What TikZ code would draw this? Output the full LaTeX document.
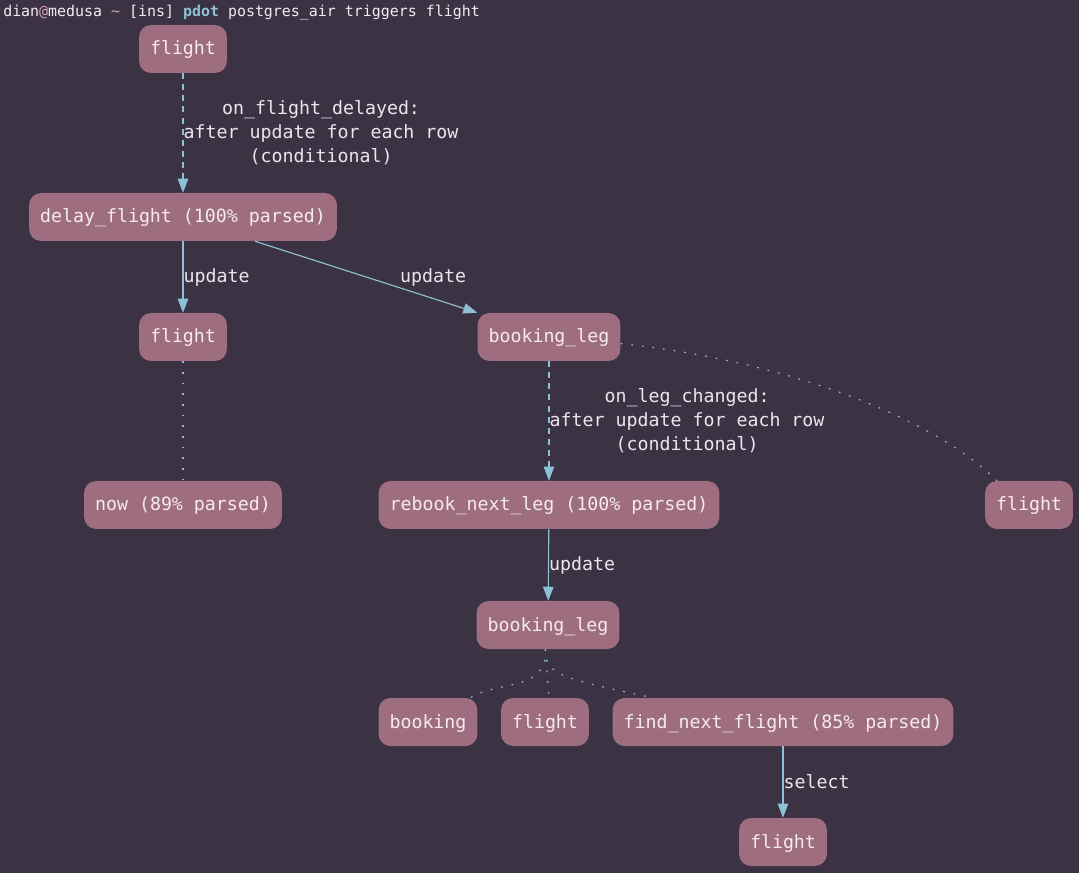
\documentclass[tikz,border=0pt]{standalone}
\usepackage{fontspec}
\setmainfont{DejaVu Sans Mono}
\setmonofont{DejaVu Sans Mono}
\usetikzlibrary{arrows.meta}
\definecolor{bg}{HTML}{3B3344}
\definecolor{nodefill}{HTML}{9E6D7F}
\definecolor{nodetext}{HTML}{F6EAF1}
\definecolor{edgecol}{HTML}{8EC1D6}
\definecolor{labeltext}{HTML}{EDE4EC}
\definecolor{pinkish}{HTML}{D3A0B3}
\tikzset{
  tbl/.style={fill=nodefill, rounded corners=9pt, minimum height=36pt, inner xsep=8.2pt, inner ysep=0pt,
    text height=12pt, text depth=3pt,
    text=nodetext, font=\fontsize{13.7}{16}\selectfont},
  conn/.style={draw=edgecol, line width=0.85pt, -{Triangle[length=10.5pt,width=7.8pt]}},
  trig/.style={conn, dash pattern=on 4.5pt off 3.8pt},
  dep/.style={draw=edgecol, line width=0.85pt, dash pattern=on 1.3pt off 6.7pt},
  lbl/.style={text=labeltext, font=\fontsize{13.7}{18}\selectfont, align=center, inner sep=0pt, anchor=west}
}
\begin{document}
\begin{tikzpicture}[x=0.75pt,y=-0.75pt]
\fill[bg] (0,0) rectangle (1079,873);
\useasboundingbox (0,0) rectangle (1079,873);
\node[anchor=west, inner sep=0pt, font=\fontsize{11.2}{13}\selectfont, text=nodetext] (hdr) at (3,12.5)
  {dian\textcolor{pinkish}{@}medusa \textcolor{pinkish}{\textasciitilde} [ins] \textcolor{edgecol}{\textbf{pdot}} postgres\_air triggers flight};

\node[tbl] (f1) at (183,49) {flight};
\node[tbl] (delay) at (183,217) {delay\_flight (100\% parsed)};
\node[tbl] (f2) at (183,337) {flight};
\node[tbl] (bl1) at (549,337) {booking\_leg};
\node[tbl] (now) at (183,505) {now (89\% parsed)};
\node[tbl] (rebook) at (549,505) {rebook\_next\_leg (100\% parsed)};
\node[tbl] (f3) at (1029,505) {flight};
\node[tbl] (bl2) at (548,625) {booking\_leg};
\node[tbl] (booking) at (428,722) {booking};
\node[tbl] (f4) at (545,722) {flight};
\node[tbl] (find) at (783,722) {find\_next\_flight (85\% parsed)};
\node[tbl] (f5) at (783,842) {flight};

\draw[trig] (f1) -- node[lbl] {on\_flight\_delayed:\\after update for each row\\(conditional)} (delay);
\draw[conn] (delay) -- node[lbl] {update} (f2);
\draw[conn] ([xshift=54pt]delay.south) -- node[lbl, xshift=25pt] {update} (bl1.north west);
\draw[dep] ([yshift=-5pt]bl1.east) .. controls (780,360) and (930,415) .. ([xshift=-24pt]f3.north);
\draw[dep] (f2) -- (now);
\draw[trig] (bl1) -- node[lbl] {on\_leg\_changed:\\after update for each row\\(conditional)} (rebook);
\draw[conn] (rebook) -- node[lbl] {update} (bl2);
\draw[dep] ([xshift=-2pt]bl2.south) .. controls (548,692) and (498,680) .. ([xshift=32pt]booking.north);
\draw[dep] ([xshift=-2pt]bl2.south) -- ([xshift=3pt]f4.north);
\draw[dep] ([xshift=-2pt]bl2.south) .. controls (546,676) and (562,678) .. ([xshift=-98pt]find.north);
\draw[conn] (find) -- node[lbl] {select} (f5);
\end{tikzpicture}
\end{document}
